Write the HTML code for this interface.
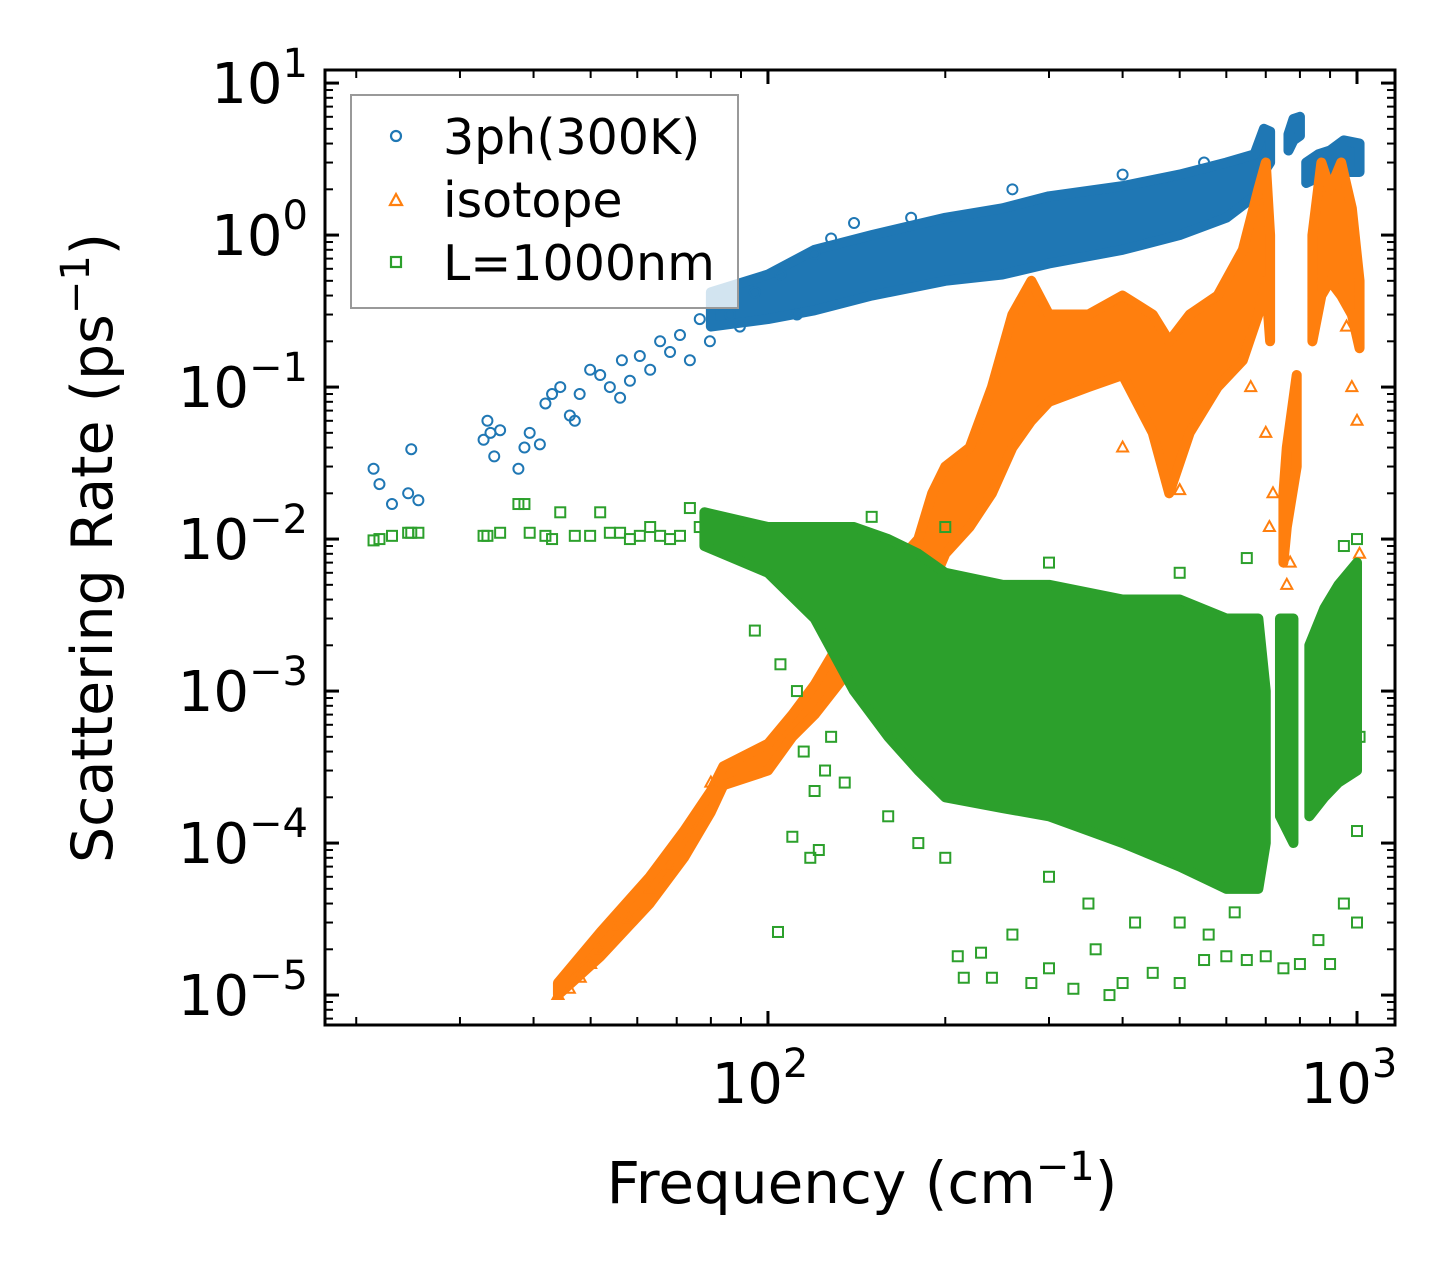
<!DOCTYPE html>
<html><head><meta charset="utf-8"><style>
html,body{margin:0;padding:0;background:#fff;}
svg{display:block;font-family:"DejaVu Sans","Liberation Sans",sans-serif;}
</style></head><body>
<svg id="chart" width="1455" height="1276" viewBox="0 0 1455 1276" xmlns="http://www.w3.org/2000/svg">
<g id="plot"></g>
<g id="axes"></g>
<g>
<rect x="351" y="95" width="387" height="213" fill="#fff" fill-opacity="0.8" stroke="#999" stroke-width="2"/>
<g><circle cx="396" cy="136" r="5" fill="none" stroke="#1f77b4" stroke-width="2.2"/><text x="443" y="154" font-size="49">3ph(300K)</text></g>
<g><path d="M390,205 L396,194 L402,205 Z" fill="none" stroke="#ff7f0e" stroke-width="2.2"/><text x="443" y="217" font-size="49">isotope</text></g>
<g><rect x="391" y="257" width="10" height="10" fill="none" stroke="#2ca02c" stroke-width="2.2"/><text x="443" y="280" font-size="49">L=1000nm</text></g>
</g>
<text x="862" y="1203" font-size="58" text-anchor="middle">Frequency (cm<tspan dy="-23" font-size="40">−1</tspan><tspan dy="23">)</tspan></text>
<text transform="translate(112,548) rotate(-90)" font-size="57" text-anchor="middle">Scattering Rate (ps<tspan dy="-23" font-size="40">−1</tspan><tspan dy="23">)</tspan></text>
</svg>
<script>
// axis setup
const yTickExps = [1,0,-1,-2,-3,-4,-5];
const xTickExps = [2,3];
// blue (3ph) individual points [freq, rate]
const bluePts = [[21.4,0.029],[21.9,0.023],[23,0.017],[24.5,0.02],[24.8,0.039],[25.5,0.018],[32.9,0.045],[33.4,0.06],[33.8,0.05],[34.3,0.035],[35.1,0.052],[37.7,0.029],[38.6,0.04],[39.4,0.05],[41,0.042],[41.9,0.078],[43,0.09],[44.4,0.1],[46.1,0.065],[47,0.06],[47.9,0.09],[49.9,0.13],[51.9,0.12],[53.9,0.1],[56.1,0.085],[56.5,0.15],[58.3,0.11],[60.6,0.16],[63.1,0.13],[65.6,0.2],[68.2,0.17],[70.9,0.22],[73.7,0.15],[76.6,0.28],[79.7,0.2],[82.9,0.35],[86.2,0.3],[89.6,0.25],[95,0.42],[105,0.55],[112,0.3],[120,0.75],[128,0.95],[140,1.2],[175,1.3],[260,2.0],[400,2.5],[550,3.0]];
// blue density envelope [freq, low, high]; null low = gap
const blueEnv = [[80,0.25,0.42],[100,0.28,0.55],[120,0.32,0.8],[150,0.4,1.0],[200,0.5,1.3],[250,0.55,1.5],[300,0.65,1.8],[400,0.8,2.1],[500,1.0,2.5],[600,1.3,3.0],[670,1.8,3.4],[695,2.6,5.0],[712,3,4.8],[716,null,null],[765,3.6,4.6],[780,4.2,5.8],[800,4.5,6.0],[805,null,null],[820,2.2,3.0],[860,2.4,3.4],[900,2.4,3.6],[950,2.6,4.2],[1010,2.6,4.0]];
// orange (isotope) points
const orangePts = [[44,1e-5],[46,1.1e-5],[48,1.3e-5],[50,1.6e-5],[52,2e-5],[55,2.8e-5],[58,3.2e-5],[63,5e-5],[68,7e-5],[74,1.2e-4],[80,2.5e-4],[400,0.04],[500,0.021],[710,0.012],[720,0.02],[760,0.005],[750,0.0028],[770,0.007],[1000,0.06],[1010,0.008],[980,0.1],[960,0.25],[660,0.1],[700,0.05]];
const orangeEnv = [[44,1e-5,1.2e-5],[52,1.8e-5,2.6e-5],[63,4e-5,6e-5],[72,8e-5,1.2e-4],[80,1.6e-4,2.2e-4],[84,2.4e-4,3.2e-4],[100,3e-4,4.5e-4],[110,5e-4,7e-4],[120,7e-4,1.1e-3],[140,1.5e-3,3e-3],[160,3e-3,6e-3],[180,5e-3,1e-2],[190,5e-3,2e-2],[200,8e-3,3e-2],[220,1.2e-2,4e-2],[240,2e-2,1e-1],[260,4e-2,3e-1],[280,6e-2,5e-1],[300,8e-2,3e-1],[350,1e-1,3e-1],[400,1.2e-1,4e-1],[450,5e-2,3e-1],[480,2e-2,2e-1],[520,5e-2,3e-1],[580,1e-1,4e-1],[640,1.5e-1,8e-1],[680,3e-1,2],[700,5e-1,3],[712,2e-1,1],[716,null,null],[750,7e-3,2e-2],[760,1.2e-2,4e-2],[790,3e-2,1.2e-1],[815,null,null],[840,2e-1,1],[870,4e-1,3],[900,5e-1,2],[940,4e-1,3],[980,3e-1,1.5],[1010,1.8e-1,5e-1]];
// green (boundary) points
const greenPts = [[21.4,0.0098],[21.9,0.01],[23,0.0105],[24.5,0.011],[24.8,0.011],[25.5,0.011],[32.9,0.0105],[33.4,0.0105],[35.1,0.011],[37.7,0.017],[38.6,0.017],[39.4,0.011],[41.9,0.0105],[43,0.01],[44.4,0.015],[47,0.0105],[49.9,0.0105],[51.9,0.015],[53.9,0.011],[56.1,0.011],[58.3,0.01],[60.6,0.0105],[63.1,0.012],[65.6,0.0105],[68.2,0.01],[70.9,0.0105],[73.7,0.016],[76.6,0.012],[104,2.6e-5],[110,1.1e-4],[118,8e-5],[120,2.2e-4],[122,9e-5],[115,4e-4],[125,3e-4],[135,2.5e-4],[128,5e-4],[95,2.5e-3],[105,1.5e-3],[112,1e-3],[160,1.5e-4],[180,1e-4],[200,8e-5],[210,1.8e-5],[215,1.3e-5],[230,1.9e-5],[240,1.3e-5],[260,2.5e-5],[280,1.2e-5],[300,1.5e-5],[330,1.1e-5],[360,2e-5],[380,1e-5],[400,1.2e-5],[450,1.4e-5],[500,1.2e-5],[550,1.7e-5],[600,1.8e-5],[650,1.7e-5],[700,1.8e-5],[750,1.5e-5],[800,1.6e-5],[860,2.3e-5],[900,1.6e-5],[950,4e-5],[1000,3e-5],[300,6e-5],[350,4e-5],[420,3e-5],[500,3e-5],[560,2.5e-5],[620,3.5e-5],[150,1.4e-2],[200,1.2e-2],[300,7e-3],[500,6e-3],[650,7.5e-3],[1000,1.0e-2],[950,9e-3],[1010,5e-4],[1000,1.2e-4]];
const greenEnv = [[78,9e-3,1.5e-2],[100,6e-3,1.2e-2],[120,3e-3,1.2e-2],[140,1e-3,1.2e-2],[160,5e-4,1e-2],[180,3e-4,8e-3],[200,2e-4,6e-3],[250,1.7e-4,5e-3],[300,1.5e-4,5e-3],[400,1e-4,4e-3],[500,7e-5,4e-3],[600,5e-5,3e-3],[680,5e-5,3e-3],[700,1e-4,1e-3],[705,null,null],[740,1.5e-4,3e-3],[780,1e-4,3e-3],[790,null,null],[830,1.5e-4,2e-3],[880,2e-4,3.5e-3],[930,2.5e-4,5e-3],[1000,3e-4,7e-3]];

const NS="http://www.w3.org/2000/svg";
const L=325,R=1395,T=70,B=1025;
const xmin=1.248,xmax=3.0645,ymin=-5.197,ymax=1.086;
const X=f=>L+(Math.log10(f)-xmin)/(xmax-xmin)*(R-L);
const Y=v=>B-(Math.log10(v)-ymin)/(ymax-ymin)*(B-T);
const plot=document.getElementById('plot'), axes=document.getElementById('axes');
function mk(tag,attrs,parent){const e=document.createElementNS(NS,tag);for(const k in attrs)e.setAttribute(k,attrs[k]);parent.appendChild(e);return e;}
const clip=mk('clipPath',{id:'cp'},plot);mk('rect',{x:L,y:T,width:R-L,height:B-T},clip);
plot.setAttribute('clip-path','url(#cp)');
function marker(kind,x,y,color,g){
  if(kind==='c'){return mk('circle',{cx:x,cy:y,r:5,fill:'none',stroke:color,'stroke-width':2},g);}
  if(kind==='t'){return mk('path',{d:`M${x-5.5},${y+4} L${x},${y-6} L${x+5.5},${y+4} Z`,fill:'none',stroke:color,'stroke-width':2},g);}
  return mk('rect',{x:x-5,y:y-5,width:10,height:10,fill:'none',stroke:color,'stroke-width':2},g);
}
function drawSeries(name,env,pts,color,kind){
  const g=mk('g',{},plot);
  
  
  let seg=[];const segs=[];
  env.forEach(p=>{if(p[1]===null){if(seg.length)segs.push(seg);seg=[];}else seg.push(p);});
  if(seg.length)segs.push(seg);
  segs.forEach(s=>{
    const top=s.map(p=>`${X(p[0])},${Y(p[2])}`);
    const bot=s.slice().reverse().map(p=>`${X(p[0])},${Y(p[1])}`);
    const poly=mk('polygon',{points:top.concat(bot).join(' '),fill:color,stroke:color,'stroke-width':10,'stroke-linejoin':'round'},g);
    
    
  });
  pts.forEach(p=>{
    const m=marker(kind,X(p[0]),Y(p[1]),color,g);
    
    
  });
}
drawSeries('3ph',blueEnv,bluePts,'#1f77b4','c');
drawSeries('isotope',orangeEnv,orangePts,'#ff7f0e','t');
drawSeries('boundary',greenEnv,greenPts,'#2ca02c','s');

const fr=mk('rect',{x:L,y:T,width:R-L,height:B-T,fill:'none',stroke:'#000','stroke-width':3},axes);


for(let e=-6;e<=1;e++){
  for(let m=1;m<10;m++){
    const lv=e+Math.log10(m); if(lv<ymin||lv>ymax)continue;
    const y=Y(Math.pow(10,lv)); const len=m===1?14:8, w=m===1?3:2;
    mk('line',{x1:L,x2:L+len,y1:y,y2:y,stroke:'#000','stroke-width':w},axes);
    mk('line',{x1:R,x2:R-len,y1:y,y2:y,stroke:'#000','stroke-width':w},axes);
  }
}
yTickExps.forEach(e=>{
  const t=mk('text',{x:308,y:Y(Math.pow(10,e))+20,'font-size':56,'text-anchor':'end'},axes);
  
  
  t.innerHTML='10<tspan dy="-26" font-size="40">'+(e<0?'−'+(-e):e)+'</tspan>';
});
for(let e=1;e<=3;e++){
  for(let m=1;m<10;m++){
    const lv=e+Math.log10(m); if(lv<xmin||lv>xmax)continue;
    const x=X(Math.pow(10,lv)); const len=m===1?14:8, w=m===1?3:2;
    mk('line',{x1:x,x2:x,y1:B,y2:B-len,stroke:'#000','stroke-width':w},axes);
    mk('line',{x1:x,x2:x,y1:T,y2:T+len,stroke:'#000','stroke-width':w},axes);
  }
}
xTickExps.forEach(e=>{
  const t=mk('text',{x:X(Math.pow(10,e))-8,y:1103,'font-size':56,'text-anchor':'middle'},axes);
  
  
  t.innerHTML='10<tspan dy="-26" font-size="40">'+e+'</tspan>';
});
</script>
</body></html>
